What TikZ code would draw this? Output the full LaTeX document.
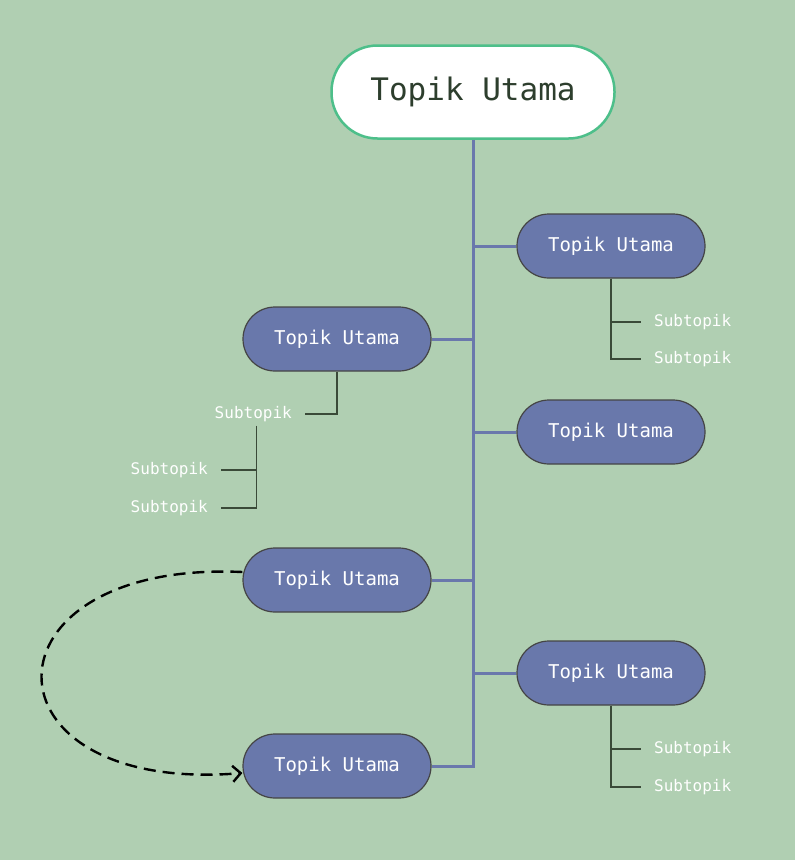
\documentclass[tikz,border=0pt]{standalone}
\usepackage{xcolor}
\usepackage{fontspec}
\setmonofont{DejaVu Sans Mono}
\usepackage{tikz}
\usetikzlibrary{arrows.meta}

\definecolor{bgGreen}{HTML}{B0CFB2}
\definecolor{mainEdge}{HTML}{4DBF8A}
\definecolor{mainText}{HTML}{2D3E2D}
\definecolor{topicFill}{HTML}{6978AB}
\definecolor{topicEdge}{HTML}{454545}
\definecolor{trunk}{HTML}{6A78AC}
\definecolor{subLine}{HTML}{3A4A38}

\begin{document}
\begin{tikzpicture}[
        x=1pt, y=-1pt,
        >=Latex,
        main/.style={rectangle, rounded corners=46pt, draw=mainEdge, line width=2.5pt,
            fill=white, minimum width=283pt, minimum height=93pt,
            text=mainText, font=\ttfamily\fontsize{31}{34}\selectfont},
        topic/.style={rectangle, rounded corners=32pt, draw=topicEdge, line width=1.2pt,
            fill=topicFill, minimum width=188pt, minimum height=64pt,
            text=white, font=\ttfamily\fontsize{19}{22}\selectfont},
        sub/.style={inner xsep=13pt, inner ysep=4pt, text=white,
            font=\ttfamily\fontsize{16}{18}\selectfont},
        branch/.style={draw=trunk, line width=3pt},
        twig/.style={draw=subLine, line width=1.4pt}
    ]
        \useasboundingbox (0,0) rectangle (795,860);
        \fill[bgGreen] (0,0) rectangle (795,860);

        \node[main] (M) at (473,92) {Topik Utama};

        \node[topic] (R1) at (611,246) {Topik Utama};
        \node[topic] (R2) at (611,432) {Topik Utama};
        \node[topic] (R3) at (611,673) {Topik Utama};
        \node[topic] (L1) at (337,339) {Topik Utama};
        \node[topic] (L2) at (337,580) {Topik Utama};
        \node[topic] (L3) at (337,766) {Topik Utama};

        % subtopics
        \node[sub, anchor=west] (R1a) at (641,322) {Subtopik};
        \node[sub, anchor=west] (R1b) at (641,359) {Subtopik};
        \node[sub, anchor=west] (R3a) at (641,749) {Subtopik};
        \node[sub, anchor=west] (R3b) at (641,787) {Subtopik};
        \node[sub, anchor=east] (L1a) at (305,414) {Subtopik};
        \node[sub, anchor=east] (L1b) at (221,470) {Subtopik};
        \node[sub, anchor=east] (L1c) at (221,508) {Subtopik};

        % trunk and branches
        \coordinate (end) at (M.south |- L3.east);
        \draw[branch] (M.south) -- (end) -- (L3.east);
        \draw[branch] (M.south |- R1.west) -- (R1.west);
        \draw[branch] (M.south |- R2.west) -- (R2.west);
        \draw[branch] (M.south |- R3.west) -- (R3.west);
        \draw[branch] (M.south |- L1.east) -- (L1.east);
        \draw[branch] (M.south |- L2.east) -- (L2.east);

        \draw[twig] (R1.south) |- (R1a.west);
        \draw[twig] (R1.south) |- (R1b.west);
        \draw[twig] (R3.south) |- (R3a.west);
        \draw[twig] (R3.south) |- (R3b.west);
        \draw[twig] (L1.south) |- (L1a.east);
        \draw[twig] ([xshift=3pt]L1a.south) |- (L1b.east);
        \draw[twig] ([xshift=3pt]L1a.south) |- (L1c.east);

        % link between topics
        \draw[-{Straight Barb[length=8pt, width=16pt]}, line width=2.4pt, dash pattern=on 12pt off 7pt]
            ([yshift=8pt]L2.west) .. controls (-25,560) and (-25,795) .. ([yshift=-7pt]L3.west);
    \end{tikzpicture}
\end{document}
